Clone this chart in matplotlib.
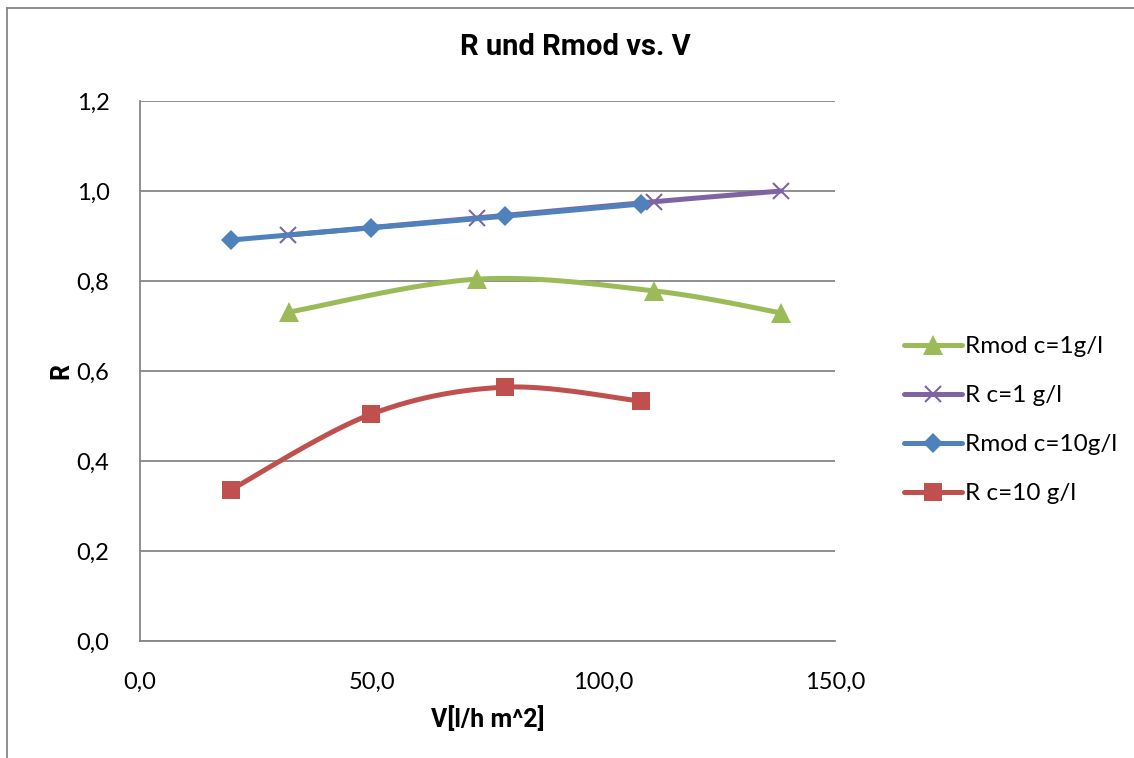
import numpy as np
import matplotlib
matplotlib.use('Agg')
from matplotlib import pyplot as plt
from matplotlib.lines import Line2D

plt.rcParams['font.family'] = ['Lato', 'DejaVu Sans']
BOLD = ['Roboto', 'DejaVu Sans']

# Daten
v_rmod1 = [32.2, 72.7, 110.9, 138.4]
r_rmod1 = [0.731, 0.804, 0.778, 0.729]
v_r1 = [31.9, 72.7, 110.9, 138.4]
r_r1 = [0.902, 0.940, 0.976, 1.000]
v_rmod10 = [19.6, 49.9, 78.8, 108.1]
r_rmod10 = [0.891, 0.918, 0.944, 0.971]
v_r10 = [19.6, 49.9, 78.8, 108.1]
r_r10 = [0.336, 0.504, 0.564, 0.533]

labels = ['Rmod c=1g/l', 'R c=1 g/l', 'Rmod c=10g/l', 'R c=10 g/l']
colors = ['#9BBB59', '#8064A2', '#4F81BD', '#C0504D']
xticks = [0, 50, 100, 150]
yticks = [0.0, 0.2, 0.4, 0.6, 0.8, 1.0, 1.2]


def smooth(x, y, sx, sy, n=40):
    # Bezier-Glaettung wie in Excel (Catmull-Rom, Spannung 1/6)
    p = np.column_stack([np.asarray(x) * sx, np.asarray(y) * sy])
    pts = np.vstack([p[0], p, p[-1]])
    out = []
    t = np.linspace(0, 1, n)[:, None]
    for i in range(1, len(pts) - 2):
        p0, p1, p2, p3 = pts[i - 1], pts[i], pts[i + 1], pts[i + 2]
        c1 = p1 + (p2 - p0) / 6
        c2 = p2 - (p3 - p1) / 6
        seg = ((1 - t) ** 3) * p1 + 3 * ((1 - t) ** 2) * t * c1 + 3 * (1 - t) * t ** 2 * c2 + t ** 3 * p2
        out.append(seg)
    out = np.vstack(out)
    return out[:, 0] / sx, out[:, 1] / sy


fig = plt.figure(figsize=(11.34, 7.58), dpi=100)
ax = fig.add_axes([0.1235, 0.1544, 0.6128, 0.7124])

series = [(v_rmod1, r_rmod1, '^', 14, 1), (v_r1, r_r1, 'x', 12, 2),
          (v_rmod10, r_rmod10, 'D', 10, 3), (v_r10, r_r10, 's', 13, 4)]
sx, sy = 695 / 150, 540 / 1.2
handles = []
for (xv, yv, m, ms, z), lab, col in zip(series, labels, colors):
    xs, ys = smooth(xv, yv, sx, sy)
    ax.plot(xs, ys, color=col, lw=3.6, solid_capstyle='round', zorder=z)
    mew = 1.5 if m == 'x' else 0
    ax.plot(xv, yv, ls='none', marker=m, ms=ms, color=col, mew=mew, zorder=z + 0.5)
    handles.append(Line2D([], [], color=col, lw=3.6, marker=m, ms=ms, mew=mew, solid_capstyle='round'))

ax.set_xlim(0, 150)
ax.set_ylim(0, 1.2)
ax.set_xticks(xticks)
ax.set_yticks(yticks)
ax.set_xticklabels([f'{v:.1f}'.replace('.', ',') for v in xticks])
ax.set_yticklabels([f'{v:.1f}'.replace('.', ',') for v in yticks])
ax.tick_params(length=0, labelsize=17)
ax.tick_params(axis='x', pad=22)
ax.tick_params(axis='y', pad=22)
ax.grid(axis='y', color='#868686', lw=1.3)
ax.set_axisbelow(True)
for s in ['top', 'right']:
    ax.spines[s].set_visible(False)
for s in ['left', 'bottom']:
    ax.spines[s].set_color('#868686')
    ax.spines[s].set_linewidth(1.3)

fig.text(0.507, 0.938, 'R und Rmod vs. V', fontsize=21, fontweight='bold', family=BOLD,
         ha='center', va='center')
ax.set_xlabel('V[l/h m^2]', fontsize=18, fontweight='bold', family=BOLD, labelpad=10)
ax.set_ylabel('R', fontsize=18, fontweight='bold', family=BOLD, labelpad=2)

fig.legend(handles=handles, labels=labels, loc='upper left', bbox_to_anchor=(0.778, 0.585),
           frameon=False, fontsize=17.5, handlelength=2.4, labelspacing=1.15, handletextpad=0.1)

# Rahmen
fig.add_artist(Line2D([0.006, 0.006], [0.0, 0.99], transform=fig.transFigure, color='#868686', lw=1.3))
fig.add_artist(Line2D([0.006, 1.0], [0.99, 0.99], transform=fig.transFigure, color='#868686', lw=1.3))

fig.savefig('out.png', dpi=100)
